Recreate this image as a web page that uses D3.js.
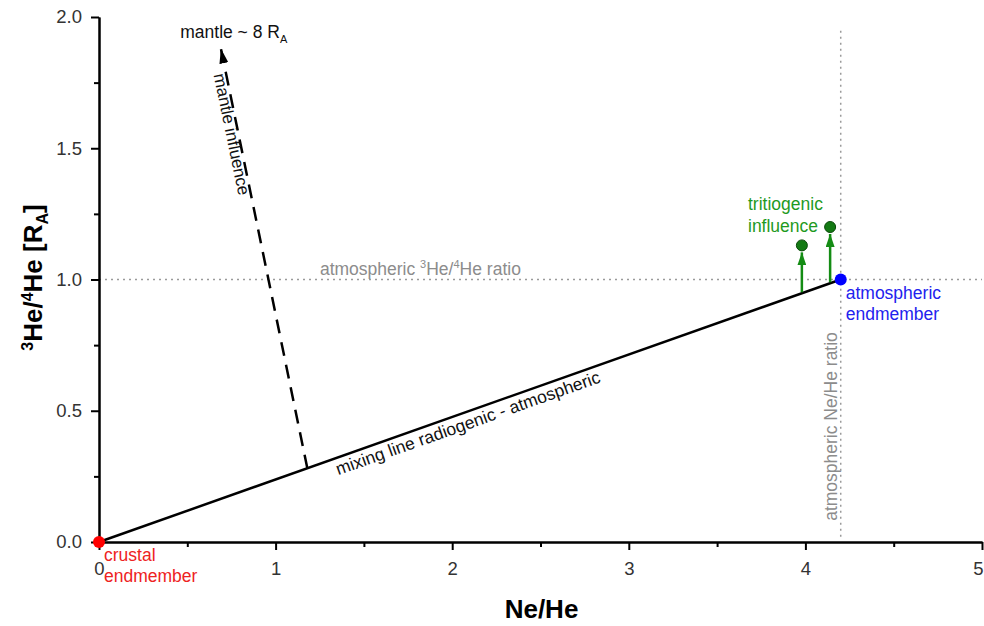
<!DOCTYPE html>
<html>
<head>
<meta charset="utf-8">
<script src="https://cdn.jsdelivr.net/npm/d3@7"></script>
<style>
  body { margin: 0; background: #fff; }
  text { font-family: "Liberation Sans", Arial, sans-serif; }
</style>
</head>
<body>
<div id="chart"></div>
<script>
// axis ticks
const xTicks = [0, 1, 2, 3, 4, 5];
const xMinor = [0.5, 1.5, 2.5, 3.5, 4.5];
const yTicks = [0, 0.5, 1.0, 1.5, 2.0];
const yMinor = [0.25, 0.75, 1.25, 1.75];

// reference values
const atmNeHe = 4.2;
const atmRatio = 1.0;

// endmembers
const endmembers = [
  { name: 'crustal', x: 0, y: 0, color: '#ff0000', text: '#ee2222', lines: ['crustal', 'endmember'] },
  { name: 'atmospheric', x: 4.2, y: 1.0, color: '#0000ff', text: '#2222ee', lines: ['atmospheric', 'endmember'] }
];

// tritiogenic samples (arrow starts on mixing line, ends at point)
const tritioX = [3.98, 4.14];
const tritioY = [1.13, 1.20];

// mantle arrow
const mantleStart = [1.18, 0.28];
const mantleEnd = [0.69, 1.88];

const width = 984, height = 626;
const margin = { top: 17, right: 2, bottom: 84, left: 99 };

const svg = d3.select('#chart').append('svg')
  .attr('width', width)
  .attr('height', height);

const x = d3.scaleLinear().domain([0, 5]).range([margin.left, width - margin.right]);
const y = d3.scaleLinear().domain([0, 2]).range([height - margin.bottom, margin.top]);

const defs = svg.append('defs');
function arrowMarker(id, color, w, l) {
  defs.append('marker')
    .attr('id', id)
    .attr('viewBox', `0 ${-w / 2} ${l} ${w}`)
    .attr('refX', l)
    .attr('refY', 0)
    .attr('markerUnits', 'userSpaceOnUse')
    .attr('markerWidth', l)
    .attr('markerHeight', w)
    .attr('orient', 'auto')
    .append('path')
    .attr('d', `M0,${-w / 2}L${l},0L0,${w / 2}Z`)
    .attr('fill', color);
}
arrowMarker('head-black', '#000', 9, 15);
arrowMarker('head-green', '#148c14', 9, 13);

// reference dotted lines
svg.append('line')
  .attr('x1', x(0)).attr('x2', x(5))
  .attr('y1', y(atmRatio)).attr('y2', y(atmRatio))
  .attr('stroke', '#9a9a9a').attr('stroke-width', 1.5)
  .attr('stroke-dasharray', '2,4');

svg.append('line')
  .attr('x1', x(atmNeHe)).attr('x2', x(atmNeHe))
  .attr('y1', y(0.02)).attr('y2', y(1.95))
  .attr('stroke', '#9a9a9a').attr('stroke-width', 1.5)
  .attr('stroke-dasharray', '2,4');

svg.append('text')
  .attr('x', x(1.82)).attr('y', y(atmRatio) - 5)
  .attr('text-anchor', 'middle')
  .attr('font-size', 17.5)
  .attr('fill', '#8c8c8c')
  .html('atmospheric <tspan dy="-7" font-size="11">3</tspan><tspan dy="7">He/</tspan><tspan dy="-7" font-size="11">4</tspan><tspan dy="7">He ratio</tspan>');

svg.append('text')
  .attr('transform', `translate(${x(atmNeHe) - 4},${y(0.44)}) rotate(-90)`)
  .attr('text-anchor', 'middle')
  .attr('font-size', 17.5)
  .attr('fill', '#8c8c8c')
  .text('atmospheric Ne/He ratio');

// axes
const axisG = svg.append('g');
axisG.append('g')
  .attr('transform', `translate(0,${y(0)})`)
  .call(d3.axisBottom(x).tickValues(xTicks).tickSize(8).tickSizeOuter(0).tickPadding(12).tickFormat(d3.format('d')));
axisG.append('g')
  .attr('transform', `translate(0,${y(0)})`)
  .call(d3.axisBottom(x).tickValues(xMinor).tickSize(5).tickSizeOuter(0).tickFormat(''));
axisG.append('g')
  .attr('transform', `translate(${x(0)},0)`)
  .call(d3.axisLeft(y).tickValues(yTicks).tickSize(8).tickSizeOuter(0).tickPadding(9).tickFormat(d3.format('.1f')));
axisG.append('g')
  .attr('transform', `translate(${x(0)},0)`)
  .call(d3.axisLeft(y).tickValues(yMinor).tickSize(5).tickSizeOuter(0).tickFormat(''));

axisG.selectAll('.domain').attr('stroke', '#000').attr('stroke-width', 2);
axisG.selectAll('.tick line').attr('stroke', '#000').attr('stroke-width', 2);
axisG.selectAll('.tick text')
  .attr('font-family', '"Liberation Sans", Arial, sans-serif')
  .attr('font-size', 18.5)
  .attr('fill', '#333');
// keep the last x label inside the frame
axisG.selectAll('.tick text').filter(d => d === 5).attr('dx', -4);

// axis titles
svg.append('text')
  .attr('x', (x(0) + x(5)) / 2 + 1).attr('y', 618)
  .attr('text-anchor', 'middle')
  .attr('font-size', 26).attr('font-weight', 'bold')
  .text('Ne/He');

svg.append('text')
  .attr('transform', `translate(42,${y(1.0) - 2}) rotate(-90)`)
  .attr('text-anchor', 'middle')
  .attr('font-size', 26).attr('font-weight', 'bold')
  .html('<tspan dy="-9" font-size="16">3</tspan><tspan dy="9">He/</tspan><tspan dy="-9" font-size="16">4</tspan><tspan dy="9">He [R</tspan><tspan dy="6" font-size="16">A</tspan><tspan dy="-6">]</tspan>');

// mixing line
svg.append('line')
  .attr('x1', x(endmembers[0].x)).attr('y1', y(endmembers[0].y))
  .attr('x2', x(endmembers[1].x)).attr('y2', y(endmembers[1].y))
  .attr('stroke', '#000').attr('stroke-width', 2.5);

const mixAngle = Math.atan2(y(endmembers[1].y) - y(endmembers[0].y), x(endmembers[1].x) - x(endmembers[0].x)) * 180 / Math.PI;
const mixLabelX = 2.1;
svg.append('text')
  .attr('transform', `translate(${x(mixLabelX)},${y(mixLabelX * atmRatio / atmNeHe) + 18}) rotate(${mixAngle})`)
  .attr('text-anchor', 'middle')
  .attr('font-size', 17.5)
  .attr('fill', '#111')
  .text('mixing line radiogenic - atmospheric');

// mantle arrow
svg.append('line')
  .attr('x1', x(mantleStart[0])).attr('y1', y(mantleStart[1]))
  .attr('x2', x(mantleEnd[0])).attr('y2', y(mantleEnd[1]))
  .attr('stroke', '#000').attr('stroke-width', 2.5)
  .attr('stroke-dasharray', '14,9')
  .attr('marker-end', 'url(#head-black)');

const mAngle = Math.atan2(y(mantleStart[1]) - y(mantleEnd[1]), x(mantleStart[0]) - x(mantleEnd[0])) * 180 / Math.PI;
svg.append('text')
  .attr('transform', `translate(${x(0.7) - 9},${y(1.78)}) rotate(${mAngle})`)
  .attr('text-anchor', 'start')
  .attr('font-size', 17)
  .attr('fill', '#111')
  .text('mantle influence');

svg.append('text')
  .attr('x', x(0.46)).attr('y', y(1.92))
  .attr('font-size', 17.5)
  .attr('fill', '#111')
  .html('mantle ~ 8 R<tspan dy="5" font-size="11">A</tspan>');

// tritiogenic arrows & points
tritioX.forEach((tx, i) => {
  svg.append('line')
    .attr('x1', x(tx)).attr('y1', y(tx * atmRatio / atmNeHe) - 1)
    .attr('x2', x(tx)).attr('y2', y(tritioY[i]) + 7)
    .attr('stroke', '#148c14').attr('stroke-width', 2.5)
    .attr('marker-end', 'url(#head-green)');
});
svg.selectAll('.tritio')
  .data(tritioX)
  .join('circle')
  .attr('class', 'tritio')
  .attr('cx', d => x(d))
  .attr('cy', (d, i) => y(tritioY[i]))
  .attr('r', 5.5)
  .attr('fill', '#147a14')
  .attr('stroke', '#0a4a0a')
  .attr('stroke-width', 1);

svg.append('text')
  .attr('font-size', 17.5)
  .attr('fill', '#1f9a1f')
  .selectAll('tspan')
  .data(['tritiogenic', 'influence'])
  .join('tspan')
  .attr('x', 748)
  .attr('y', (d, i) => 210 + i * 22)
  .text(d => d);

// endmember points
svg.selectAll('.endmember')
  .data(endmembers)
  .join('circle')
  .attr('class', 'endmember')
  .attr('cx', d => x(d.x))
  .attr('cy', d => y(d.y))
  .attr('r', 6)
  .attr('fill', d => d.color);

endmembers.forEach(d => {
  svg.append('text')
    .attr('font-size', 17.5)
    .attr('fill', d.text)
    .selectAll('tspan')
    .data(d.lines)
    .join('tspan')
    .attr('x', x(d.x) + 5)
    .attr('y', (t, i) => y(d.y) + 19 + i * 21)
    .text(t => t);
});
</script>
</body>
</html>
